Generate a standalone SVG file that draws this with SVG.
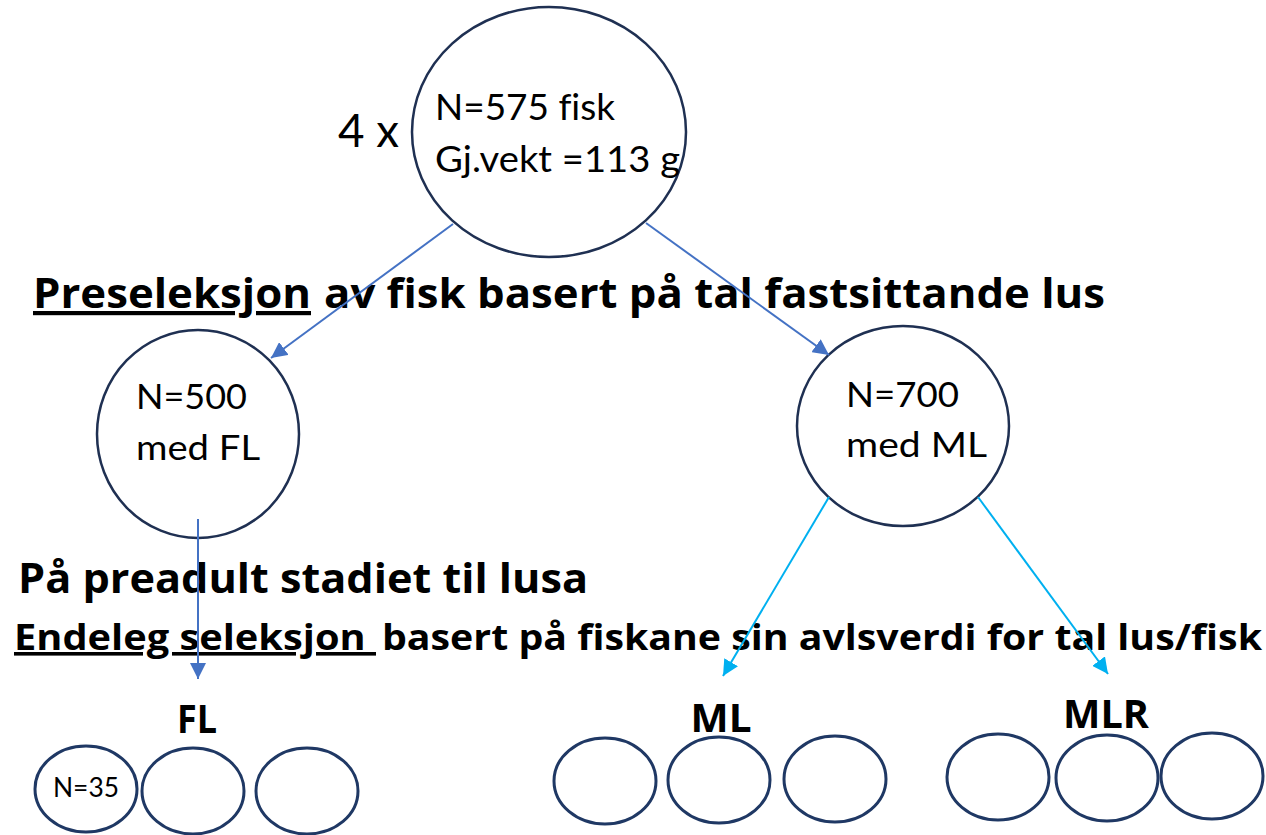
<svg xmlns="http://www.w3.org/2000/svg" width="1266" height="835" viewBox="0 0 1266 835">
<defs>
<style>
.node{fill:#fff;stroke:#1F3052;stroke-width:2.5}
.small{fill:#fff;stroke:#1F3864;stroke-width:3}
.reg{font-family:Lato,"Liberation Sans",sans-serif;fill:#000;font-variant-ligatures:none}
.bold{font-family:"Open Sans","Liberation Sans",sans-serif;font-weight:bold;fill:#000;font-variant-ligatures:none}
.blue{stroke:#4472C4;stroke-width:2;fill:none}
.cyan{stroke:#00B0F0;stroke-width:2;fill:none}
</style>
<marker id="ab" viewBox="0 0 16 16" refX="16" refY="8" markerWidth="16" markerHeight="16" markerUnits="userSpaceOnUse" orient="auto"><path d="M0,0 L16,8 L0,16 z" fill="#4472C4"/></marker>
<marker id="ac" viewBox="0 0 16 16" refX="16" refY="8" markerWidth="16" markerHeight="16" markerUnits="userSpaceOnUse" orient="auto"><path d="M0,0 L16,8 L0,16 z" fill="#00B0F0"/></marker>
</defs>
<rect width="1266" height="835" fill="#fff"/>

<g id="labels">
<text class="bold" x="33" y="308" font-size="42" textLength="278" lengthAdjust="spacingAndGlyphs" text-decoration="underline">Preseleksjon</text>
<text class="bold" x="324" y="308" font-size="42" textLength="781" lengthAdjust="spacingAndGlyphs">av fisk basert på tal fastsittande lus</text>
<text class="bold" x="18" y="593" font-size="41" textLength="570" lengthAdjust="spacingAndGlyphs">På preadult stadiet til lusa</text>
<text class="bold" x="14" y="650" font-size="36" textLength="362" lengthAdjust="spacingAndGlyphs" text-decoration="underline" style="white-space:pre">Endeleg seleksjon </text>
<text class="bold" x="382" y="650" font-size="36" textLength="880" lengthAdjust="spacingAndGlyphs">basert på fiskane sin avlsverdi for tal lus/fisk</text>
</g>

<g id="n-top">
<ellipse class="node" cx="549" cy="132" rx="137" ry="125"/>
<text class="reg" x="338" y="147" font-size="47" textLength="61" lengthAdjust="spacingAndGlyphs">4 x</text>
<text class="reg" x="435" y="120" font-size="37" textLength="180" lengthAdjust="spacingAndGlyphs">N=575 fisk</text>
<text class="reg" x="435" y="172" font-size="37" textLength="245" lengthAdjust="spacingAndGlyphs">Gj.vekt =113 g</text>
</g>

<g id="n-fl">
<ellipse class="node" cx="198" cy="434" rx="101" ry="104"/>
<text class="reg" x="136" y="409" font-size="35" textLength="111" lengthAdjust="spacingAndGlyphs">N=500</text>
<text class="reg" x="136" y="460" font-size="35" textLength="124" lengthAdjust="spacingAndGlyphs">med FL</text>
</g>

<g id="n-ml">
<ellipse class="node" cx="903" cy="426" rx="106" ry="100"/>
<text class="reg" x="846" y="407" font-size="35" textLength="113" lengthAdjust="spacingAndGlyphs">N=700</text>
<text class="reg" x="846" y="457" font-size="35" textLength="141" lengthAdjust="spacingAndGlyphs">med ML</text>
</g>

<g id="grp-fl">
<text class="bold" x="197" y="733" font-size="39" textLength="40" lengthAdjust="spacingAndGlyphs" text-anchor="middle">FL</text>
<ellipse class="small" cx="86" cy="789" rx="51" ry="43"/>
<text class="reg" x="53" y="797" font-size="27" textLength="66" lengthAdjust="spacingAndGlyphs">N=35</text>
<ellipse class="small" cx="193" cy="791" rx="51" ry="43"/>
<ellipse class="small" cx="307" cy="791" rx="51" ry="43"/>
</g>

<g id="grp-ml">
<text class="bold" x="721" y="732" font-size="39" textLength="61" lengthAdjust="spacingAndGlyphs" text-anchor="middle">ML</text>
<ellipse class="small" cx="605" cy="781" rx="51" ry="43"/>
<ellipse class="small" cx="719" cy="780" rx="51" ry="43"/>
<ellipse class="small" cx="835" cy="779" rx="51" ry="43"/>
</g>

<g id="grp-mlr">
<text class="bold" x="1106" y="728" font-size="39" textLength="86" lengthAdjust="spacingAndGlyphs" text-anchor="middle">MLR</text>
<ellipse class="small" cx="998" cy="777" rx="51" ry="43"/>
<ellipse class="small" cx="1107" cy="778" rx="51" ry="43"/>
<ellipse class="small" cx="1212" cy="776" rx="51" ry="43"/>
</g>

<g id="connectors">
<line class="blue" x1="453" y1="224" x2="271" y2="358" marker-end="url(#ab)"/>
<line class="blue" x1="646" y1="223" x2="829" y2="355" marker-end="url(#ab)"/>
<line class="blue" x1="198" y1="519" x2="198" y2="679" marker-end="url(#ab)"/>
<line class="cyan" x1="829" y1="497" x2="723" y2="676" marker-end="url(#ac)"/>
<line class="cyan" x1="978" y1="497" x2="1108" y2="674" marker-end="url(#ac)"/>
</g>
</svg>
